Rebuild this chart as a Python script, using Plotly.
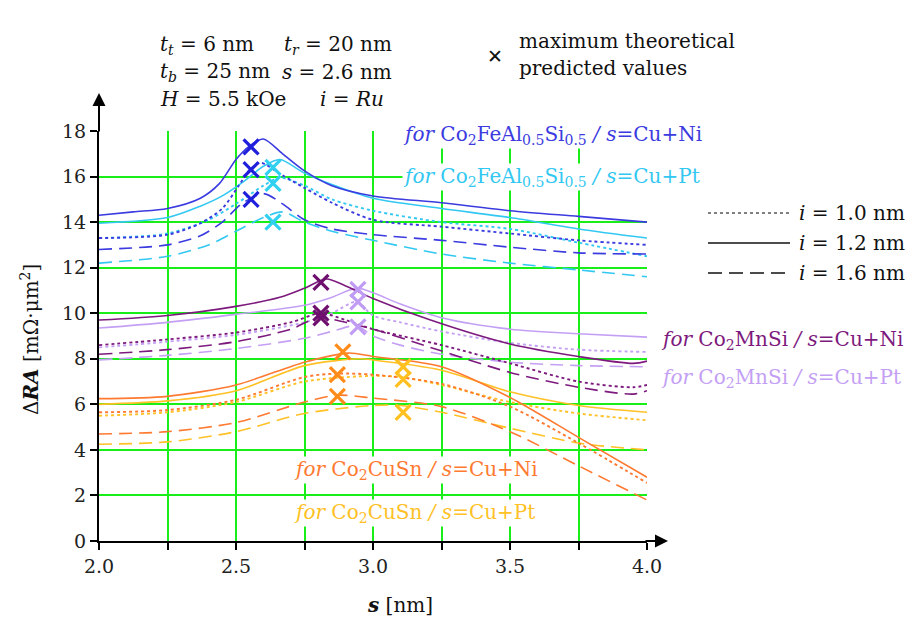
import plotly.graph_objects as go

# ---------------- data ----------------
# Co2FeAl0.5Si0.5, s = Cu+Ni
fe_ni_10_x = [2.0, 2.25, 2.37, 2.45, 2.51, 2.55, 2.59, 2.67, 2.75, 2.85, 3.0, 3.25, 3.5, 3.75, 4.0]
fe_ni_10_y = [13.3, 13.45, 13.95, 14.6, 15.6, 16.3, 16.6, 16.05, 15.5, 14.85, 14.1, 13.8, 13.5, 13.2, 13.0]
fe_ni_12_x = [2.0, 2.125, 2.25, 2.37, 2.44, 2.5, 2.55, 2.6, 2.67, 2.75, 2.85, 3.0, 3.25, 3.5, 3.75, 4.0]
fe_ni_12_y = [14.3, 14.45, 14.6, 15.05, 15.7, 16.75, 17.35, 17.65, 17.0, 16.25, 15.6, 15.15, 14.85, 14.5, 14.25, 14.0]
fe_ni_16_x = [2.0, 2.25, 2.37, 2.45, 2.52, 2.6, 2.67, 2.75, 2.85, 3.0, 3.25, 3.5, 3.75, 4.0]
fe_ni_16_y = [12.8, 13.0, 13.4, 14.0, 14.8, 15.25, 14.8, 14.1, 13.7, 13.45, 13.2, 12.9, 12.65, 12.6]
# Co2FeAl0.5Si0.5, s = Cu+Pt
fe_pt_10_x = [2.0, 2.25, 2.4, 2.5, 2.6, 2.66, 2.75, 2.85, 3.0, 3.25, 3.5, 3.75, 4.0]
fe_pt_10_y = [13.3, 13.5, 14.1, 14.8, 15.6, 15.95, 15.6, 15.0, 14.5, 14.0, 13.7, 13.1, 12.5]
fe_pt_12_x = [2.0, 2.25, 2.37, 2.45, 2.53, 2.6, 2.66, 2.75, 2.85, 3.0, 3.25, 3.5, 3.75, 4.0]
fe_pt_12_y = [13.95, 14.2, 14.7, 15.15, 15.8, 16.45, 16.75, 16.15, 15.65, 15.05, 14.6, 14.2, 13.7, 13.3]
fe_pt_16_x = [2.0, 2.25, 2.4, 2.5, 2.6, 2.67, 2.75, 2.85, 3.0, 3.25, 3.5, 3.75, 4.0]
fe_pt_16_y = [12.2, 12.5, 13.0, 13.6, 14.2, 14.45, 14.0, 13.6, 13.2, 12.6, 12.2, 11.9, 11.6]

# Co2MnSi, s = Cu+Ni
mn_ni_10_x = [2.0, 2.25, 2.5, 2.7, 2.81, 2.9, 3.0, 3.25, 3.5, 3.75, 3.95, 4.0]
mn_ni_10_y = [8.6, 8.85, 9.15, 9.6, 10.0, 9.7, 9.3, 8.6, 7.8, 7.0, 6.75, 6.85]
mn_ni_12_x = [2.0, 2.25, 2.5, 2.66, 2.75, 2.83, 2.9, 3.0, 3.21, 3.5, 3.75, 3.95, 4.0]
mn_ni_12_y = [9.7, 9.9, 10.3, 10.7, 11.1, 11.5, 11.2, 10.65, 9.7, 8.65, 8.1, 7.8, 7.9]
mn_ni_16_x = [2.0, 2.25, 2.5, 2.7, 2.8, 2.9, 3.0, 3.21, 3.5, 3.75, 3.95, 4.0]
mn_ni_16_y = [8.2, 8.4, 8.75, 9.3, 9.8, 9.6, 9.3, 8.5, 7.4, 6.75, 6.45, 6.6]
# Co2MnSi, s = Cu+Pt
mn_pt_x = [2.0, 2.25, 2.5, 2.75, 2.85, 2.94, 3.0, 3.1, 3.25, 3.5, 3.75, 4.0]
mn_pt_10_y = [8.5, 8.75, 9.05, 9.6, 10.0, 10.5, 9.9, 9.6, 9.2, 8.7, 8.4, 8.3]
mn_pt_12_y = [9.35, 9.6, 9.95, 10.35, 10.7, 11.1, 10.9, 10.4, 9.8, 9.3, 9.1, 8.95]
mn_pt_16_y = [7.95, 8.15, 8.45, 8.9, 9.2, 9.45, 9.0, 8.6, 8.2, 7.85, 7.7, 7.65]

# Co2CuSn, s = Cu+Ni
cu_ni_12_x = [2.0, 2.25, 2.5, 2.75, 2.91, 3.0, 3.25, 3.5, 3.75, 4.0]
cu_ni_12_y = [6.25, 6.35, 6.85, 7.85, 8.25, 8.1, 7.65, 6.3, 4.55, 2.8]
cu_ni_x = [2.0, 2.25, 2.5, 2.75, 2.87, 3.0, 3.25, 3.5, 3.75, 4.0]
cu_ni_10_y = [5.65, 5.75, 6.2, 7.2, 7.35, 7.3, 6.9, 5.9, 4.3, 2.55]
cu_ni_16_y = [4.7, 4.8, 5.2, 6.1, 6.4, 6.27, 5.9, 4.8, 3.3, 1.8]
# Co2CuSn, s = Cu+Pt
cu_pt_12_x = [2.0, 2.25, 2.5, 2.75, 2.95, 3.0, 3.25, 3.5, 3.75, 4.0]
cu_pt_12_y = [6.0, 6.15, 6.6, 7.7, 8.0, 7.95, 7.5, 6.55, 5.95, 5.65]
cu_pt_x = [2.0, 2.25, 2.5, 2.75, 3.0, 3.1, 3.25, 3.5, 3.75, 4.0]
cu_pt_10_y = [5.5, 5.65, 6.1, 7.0, 7.25, 7.2, 6.85, 6.1, 5.6, 5.3]
cu_pt_16_y = [4.25, 4.35, 4.8, 5.6, 5.95, 5.95, 5.65, 4.95, 4.3, 4.0]

# maximum theoretical predicted values
max_fe_ni_x = [2.555, 2.555, 2.555]
max_fe_ni_y = [17.3, 16.3, 15.0]
max_fe_pt_x = [2.635, 2.635, 2.635]
max_fe_pt_y = [16.4, 15.7, 14.0]
max_mn_ni_x = [2.81, 2.81, 2.81]
max_mn_ni_y = [11.35, 10.0, 9.8]
max_mn_pt_x = [2.945, 2.945, 2.945]
max_mn_pt_y = [11.05, 10.5, 9.4]
max_cu_ni_x = [2.89, 2.87, 2.87]
max_cu_ni_y = [8.3, 7.3, 6.35]
max_cu_pt_x = [3.11, 3.11, 3.11]
max_cu_pt_y = [7.65, 7.1, 5.65]

x_tick_vals = [2.0, 2.5, 3.0, 3.5, 4.0]
x_tick_text = ["2.0", "2.5", "3.0", "3.5", "4.0"]
y_tick_vals = [0, 2, 4, 6, 8, 10, 12, 14, 16, 18]

# ---------------- styles ----------------
C_BLUE = "#3b3be0"
C_CYAN = "#33c8f2"
C_PURPLE = "#7d1a7d"
C_LAV = "#c4a0f4"
C_ORANGE = "#ff7a30"
C_GOLD = "#ffc125"
DOT = "dot"
SOLID = "solid"
DASH = "13px,7px"
SERIF = "DejaVu Serif"
FS = 20

fig = go.Figure()

def curve(x, y, color, dash):
    fig.add_trace(go.Scatter(x=x, y=y, mode="lines",
                             line=dict(color=color, width=1.6 if dash != DOT else 1.9,
                                       dash=dash, shape="spline", smoothing=0.8),
                             showlegend=False, hoverinfo="skip"))

def marks(x, y, color):
    fig.add_trace(go.Scatter(x=x, y=y, mode="markers",
                             marker=dict(symbol="x-thin", size=15,
                                         line=dict(color=color, width=3.2)),
                             showlegend=False, hoverinfo="skip"))

curve(fe_pt_16_x, fe_pt_16_y, C_CYAN, DASH)
curve(fe_pt_10_x, fe_pt_10_y, C_CYAN, DOT)
curve(fe_pt_12_x, fe_pt_12_y, C_CYAN, SOLID)
curve(fe_ni_16_x, fe_ni_16_y, C_BLUE, DASH)
curve(fe_ni_10_x, fe_ni_10_y, C_BLUE, DOT)
curve(fe_ni_12_x, fe_ni_12_y, C_BLUE, SOLID)

curve(mn_pt_x, mn_pt_16_y, C_LAV, DASH)
curve(mn_pt_x, mn_pt_10_y, C_LAV, DOT)
curve(mn_pt_x, mn_pt_12_y, C_LAV, SOLID)
curve(mn_ni_16_x, mn_ni_16_y, C_PURPLE, DASH)
curve(mn_ni_10_x, mn_ni_10_y, C_PURPLE, DOT)
curve(mn_ni_12_x, mn_ni_12_y, C_PURPLE, SOLID)

curve(cu_pt_x, cu_pt_16_y, C_GOLD, DASH)
curve(cu_pt_x, cu_pt_10_y, C_GOLD, DOT)
curve(cu_pt_12_x, cu_pt_12_y, C_GOLD, SOLID)
curve(cu_ni_x, cu_ni_16_y, C_ORANGE, DASH)
curve(cu_ni_x, cu_ni_10_y, C_ORANGE, DOT)
curve(cu_ni_12_x, cu_ni_12_y, C_ORANGE, SOLID)

marks(max_fe_ni_x, max_fe_ni_y, "#1f1fdc")
marks(max_fe_pt_x, max_fe_pt_y, "#2fd0f0")
marks(max_mn_ni_x, max_mn_ni_y, "#6e0f6e")
marks(max_mn_pt_x, max_mn_pt_y, "#c09cf5")
marks(max_cu_ni_x, max_cu_ni_y, "#ff8c1a")
marks(max_cu_pt_x, max_cu_pt_y, "#ffc020")

GREEN = "#19ee19"
fig.update_xaxes(range=[2.0, 4.0], tickvals=x_tick_vals, ticktext=x_tick_text,
                 showgrid=True, gridcolor=GREEN, gridwidth=2,
                 minor=dict(dtick=0.25, showgrid=True, gridcolor=GREEN, gridwidth=2,
                            ticks="outside", ticklen=7, tickcolor="black", tickwidth=1.5),
                 ticks="outside", ticklen=7, tickcolor="black", tickwidth=1.5,
                 showline=True, linecolor="black", linewidth=2, zeroline=False,
                 tickfont=dict(family=SERIF, size=19, color="#222"))
fig.update_yaxes(range=[0, 18], tickvals=y_tick_vals,
                 showgrid=True, gridcolor=GREEN, gridwidth=2,
                 ticks="outside", ticklen=7, tickcolor="black", tickwidth=1.5,
                 showline=True, linecolor="black", linewidth=2, zeroline=False,
                 tickfont=dict(family=SERIF, size=19, color="#222"))

# page has an 8px body margin: figure is sized to fit the window
W, H = 914, 616
L, R, T, B = 91, 275, 123, 83
pw, ph = W - L - R, H - T - B

def px(xp):   # page pixel x -> paper
    return (xp - 99) / pw

def py(yp):   # page pixel y -> paper
    return (541 - yp) / ph

ann = []
# axis arrows
ann.append(dict(x=0, y=py(93), xref="paper", yref="paper", text="", showarrow=True,
                ax=0, ay=40, arrowhead=2, arrowsize=1.3, arrowwidth=2, arrowcolor="black"))
ann.append(dict(x=px(668), y=0, xref="paper", yref="paper", text="", showarrow=True,
                ax=-24, ay=0, arrowhead=2, arrowsize=1.3, arrowwidth=2, arrowcolor="black"))

# curve family labels
labels = [
    (402, 135, C_BLUE, "<i>for</i> Co<sub>2</sub>FeAl<sub>0.5</sub>Si<sub>0.5</sub> <i>/ s</i>=Cu+Ni"),
    (402, 177, C_CYAN, "<i>for</i> Co<sub>2</sub>FeAl<sub>0.5</sub>Si<sub>0.5</sub> <i>/ s</i>=Cu+Pt"),
    (660, 340, C_PURPLE, "<i>for</i> Co<sub>2</sub>MnSi <i>/ s</i>=Cu+Ni"),
    (660, 378, C_LAV, "<i>for</i> Co<sub>2</sub>MnSi <i>/ s</i>=Cu+Pt"),
    (293, 470, C_ORANGE, "<i>for</i> Co<sub>2</sub>CuSn <i>/ s</i>=Cu+Ni"),
    (293, 513, C_GOLD, "<i>for</i> Co<sub>2</sub>CuSn <i>/ s</i>=Cu+Pt"),
]
for xp, yp, col, txt in labels:
    ann.append(dict(x=px(xp), y=py(yp), xref="paper", yref="paper", text=txt,
                    showarrow=False, xanchor="left", yanchor="middle",
                    font=dict(family=SERIF, size=FS, color=col), bgcolor="white",
                    borderpad=0))

# parameters block
params = [
    (158, 45, "<i>t<sub>t</sub></i> = 6 nm"),
    (282, 45, "<i>t<sub>r</sub></i> = 20 nm"),
    (158, 72, "<i>t<sub>b</sub></i> = 25 nm"),
    (280, 72, "<i>s</i> = 2.6 nm"),
    (158, 99, "<i>H</i> = 5.5 kOe"),
    (318, 99, "<i>i</i> = <i>Ru</i>"),
]
for xp, yp, txt in params:
    ann.append(dict(x=px(xp), y=py(yp), xref="paper", yref="paper", text=txt,
                    showarrow=False, xanchor="left", yanchor="middle",
                    font=dict(family=SERIF, size=FS, color="#111")))

# max-value legend
ann.append(dict(x=px(495), y=py(56), xref="paper", yref="paper", text="<b>✕</b>",
                showarrow=False, xanchor="center", yanchor="middle",
                font=dict(family="DejaVu Sans", size=19, color="#111")))
ann.append(dict(x=px(517), y=py(41), xref="paper", yref="paper", text="maximum theoretical",
                showarrow=False, xanchor="left", yanchor="middle",
                font=dict(family=SERIF, size=FS, color="#111")))
ann.append(dict(x=px(517), y=py(68), xref="paper", yref="paper", text="predicted values",
                showarrow=False, xanchor="left", yanchor="middle",
                font=dict(family=SERIF, size=FS, color="#111")))

# line-style legend
shapes = []
leg = [(213, "dot", "#555", "<i>i</i> = 1.0 nm"),
       (243, "solid", "#111", "<i>i</i> = 1.2 nm"),
       (273, "14px,7px", "#111", "<i>i</i> = 1.6 nm")]
for yp, dsh, col, txt in leg:
    shapes.append(dict(type="line", xref="paper", yref="paper",
                       x0=px(708), x1=px(790), y0=py(yp), y1=py(yp),
                       line=dict(color=col, width=1.6, dash=dsh)))
    ann.append(dict(x=px(797), y=py(yp), xref="paper", yref="paper", text=txt,
                    showarrow=False, xanchor="left", yanchor="middle",
                    font=dict(family=SERIF, size=FS, color="#111")))

# axis titles
ann.append(dict(x=px(30), y=py(340), xref="paper", yref="paper",
                text="Δ<b><i>RA</i></b> [mΩ·μm<sup>2</sup>]", textangle=-90,
                showarrow=False, xanchor="center", yanchor="middle",
                font=dict(family=SERIF, size=FS, color="#111")))
ann.append(dict(x=px(400), y=py(605), xref="paper", yref="paper",
                text="<b><i>s</i></b> [nm]",
                showarrow=False, xanchor="center", yanchor="middle",
                font=dict(family=SERIF, size=FS, color="#111")))

fig.update_layout(width=W, height=H, margin=dict(l=L, r=R, t=T, b=B),
                  plot_bgcolor="white", paper_bgcolor="white",
                  annotations=ann, shapes=shapes, showlegend=False)

fig.write_html("out.html")
